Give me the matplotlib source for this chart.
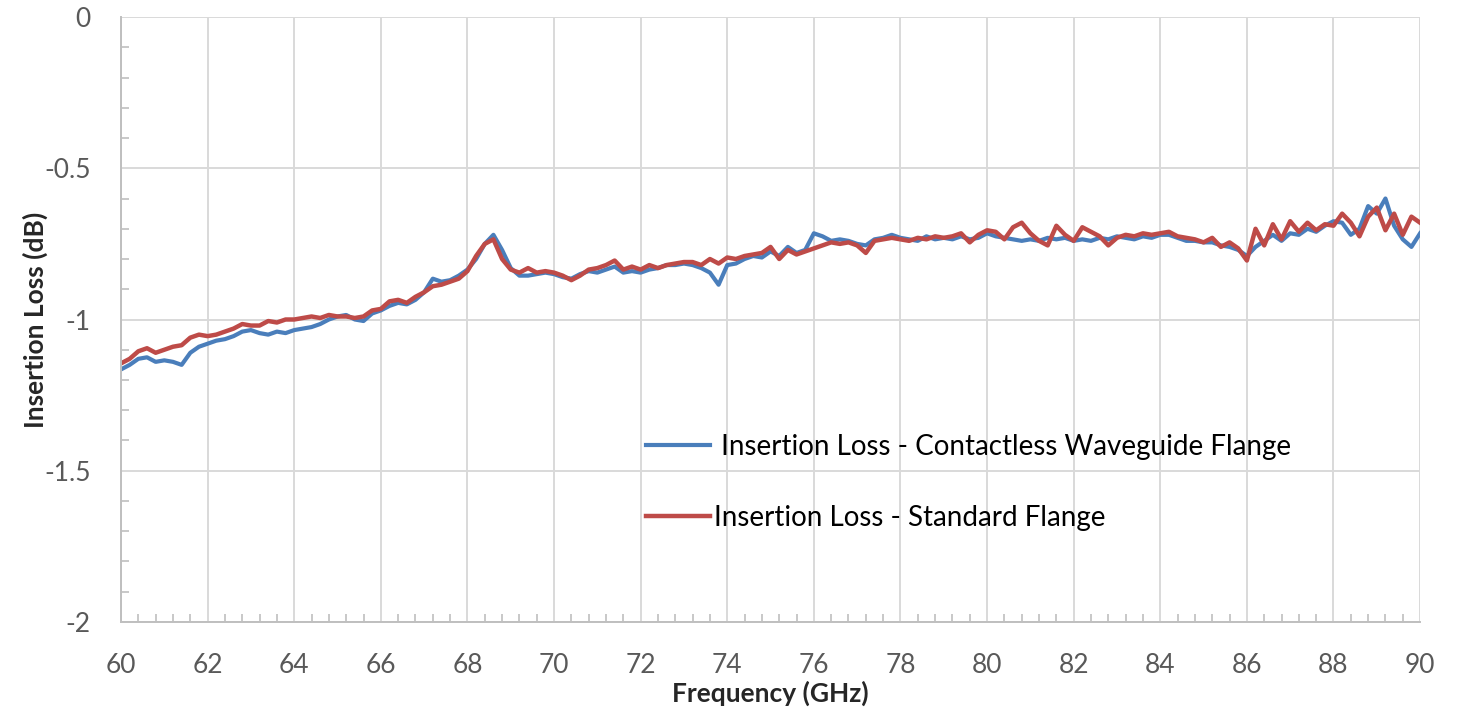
import numpy as np
import matplotlib
matplotlib.use("Agg")
import matplotlib.pyplot as plt
from matplotlib.ticker import MultipleLocator

plt.rcParams["font.family"] = ["Lato", "DejaVu Sans"]

# frequency grid, 0.2 GHz step
freq_ghz = np.round(np.arange(60.0, 90.0001, 0.2), 1)

# Insertion loss, standard flange (dB)
il_standard = [
    -1.145, -1.13, -1.105, -1.095, -1.11, -1.10, -1.09, -1.085, -1.06, -1.05,
    -1.055, -1.05, -1.04, -1.03, -1.015, -1.02, -1.02, -1.005, -1.01, -1.0,
    -1.0, -0.995, -0.99, -0.995, -0.985, -0.99, -0.99, -0.995, -0.99, -0.97,
    -0.965, -0.94, -0.935, -0.945, -0.925, -0.91, -0.89, -0.885, -0.875, -0.865,
    -0.84, -0.79, -0.75, -0.735, -0.80, -0.835, -0.845, -0.83, -0.845, -0.84,
    -0.845, -0.855, -0.87, -0.855, -0.835, -0.83, -0.82, -0.805, -0.835, -0.825,
    -0.835, -0.82, -0.83, -0.82, -0.815, -0.81, -0.81, -0.82, -0.80, -0.815,
    -0.795, -0.80, -0.79, -0.785, -0.78, -0.76, -0.80, -0.77, -0.785, -0.775,
    -0.765, -0.755, -0.745, -0.75, -0.745, -0.755, -0.78, -0.74, -0.735, -0.73,
    -0.735, -0.74, -0.73, -0.735, -0.725, -0.73, -0.725, -0.715, -0.745, -0.72,
    -0.705, -0.71, -0.735, -0.695, -0.68, -0.715, -0.74, -0.755, -0.69, -0.72,
    -0.74, -0.695, -0.71, -0.725, -0.755, -0.73, -0.72, -0.725, -0.715, -0.72,
    -0.715, -0.71, -0.725, -0.73, -0.735, -0.745, -0.73, -0.76, -0.745, -0.765,
    -0.805, -0.70, -0.755, -0.685, -0.735, -0.675, -0.71, -0.68, -0.705, -0.685,
    -0.69, -0.65, -0.68, -0.725, -0.66, -0.63, -0.705, -0.65, -0.72, -0.66,
    -0.68,
]

# Insertion loss, contactless waveguide flange (dB)
il_contactless = [
    -1.165, -1.15, -1.13, -1.125, -1.14, -1.135, -1.14, -1.15, -1.11, -1.09,
    -1.08, -1.07, -1.065, -1.055, -1.04, -1.035, -1.045, -1.05, -1.04, -1.045,
    -1.035, -1.03, -1.025, -1.015, -1.0, -0.99, -0.985, -1.0, -1.005, -0.98,
    -0.97, -0.955, -0.945, -0.95, -0.935, -0.91, -0.865, -0.875, -0.87, -0.855,
    -0.835, -0.80, -0.75, -0.72, -0.77, -0.83, -0.855, -0.855, -0.85, -0.845,
    -0.85, -0.86, -0.865, -0.85, -0.84, -0.845, -0.835, -0.825, -0.845, -0.84,
    -0.845, -0.835, -0.83, -0.82, -0.82, -0.815, -0.82, -0.83, -0.845, -0.885,
    -0.82, -0.815, -0.80, -0.79, -0.795, -0.775, -0.79, -0.76, -0.78, -0.77,
    -0.715, -0.725, -0.74, -0.735, -0.74, -0.75, -0.755, -0.735, -0.73, -0.72,
    -0.73, -0.735, -0.74, -0.725, -0.735, -0.73, -0.735, -0.725, -0.735, -0.73,
    -0.715, -0.725, -0.73, -0.735, -0.74, -0.735, -0.74, -0.73, -0.735, -0.73,
    -0.74, -0.735, -0.74, -0.73, -0.735, -0.725, -0.73, -0.735, -0.725, -0.73,
    -0.72, -0.72, -0.73, -0.74, -0.74, -0.745, -0.745, -0.755, -0.76, -0.77,
    -0.79, -0.76, -0.74, -0.72, -0.74, -0.715, -0.72, -0.70, -0.71, -0.69,
    -0.675, -0.68, -0.72, -0.70, -0.625, -0.65, -0.60, -0.69, -0.735, -0.76,
    -0.715,
]

labels = [" Insertion Loss - Contactless Waveguide Flange",
          "Insertion Loss - Standard Flange"]

GRID = "#d9d9d9"
TXT = "#595959"

fig = plt.figure(figsize=(14.58, 7.10), dpi=100)
ax = fig.add_axes([0.083, 0.124, 0.891, 0.852])

ax.plot(freq_ghz, il_contactless, color="#4a7ebb", lw=3.0, label=labels[0])
ax.plot(freq_ghz, il_standard, color="#be4b48", lw=3.2, label=labels[1])

ax.set_xlim(60, 90)
ax.set_ylim(-2, 0)
ax.xaxis.set_major_locator(MultipleLocator(2))
ax.xaxis.set_minor_locator(MultipleLocator(0.4))
ax.yaxis.set_minor_locator(MultipleLocator(0.1))
ax.set_yticks([0, -0.5, -1, -1.5, -2])
ax.set_yticklabels(["0", "-0.5", "-1", "-1.5", "-2"])

ax.grid(which="major", color=GRID, lw=1.4)
ax.set_axisbelow(True)
ax.tick_params(which="major", length=0, pad=22, labelsize=19, labelcolor=TXT)
ax.tick_params(which="minor", direction="in", length=6, width=1.2, color="#bfbfbf")
for s in ["top", "right"]:
    ax.spines[s].set_visible(False)
for s in ["left", "bottom"]:
    ax.spines[s].set_color("#bfbfbf")
    ax.spines[s].set_linewidth(1.4)

ax.set_xlabel("Frequency (GHz)", fontsize=19, fontweight="bold", color="#262626", labelpad=2)
ax.set_ylabel("Insertion Loss (dB)", fontsize=19, fontweight="bold", color="#262626", labelpad=-3)

ax.legend(loc="center left", bbox_to_anchor=(0.385, 0.231), frameon=False,
          fontsize=20, handlelength=2.3, handletextpad=0.15, labelspacing=1.62)

fig.savefig("out.png", dpi=100)
